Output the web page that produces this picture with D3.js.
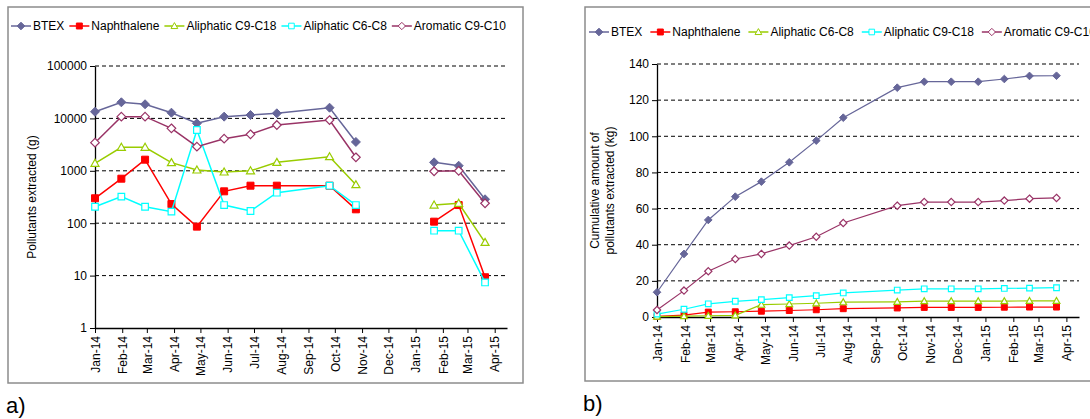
<!DOCTYPE html>
<html>
<head>
<meta charset="utf-8">
<script src="https://cdn.jsdelivr.net/npm/d3@7"></script>
<style>
  body {margin: 0; background: #fff;}
  svg {display: block; font-family: "Liberation Sans", Arial, sans-serif;}
</style>
</head>
<body>
<script>
// sampling dates (shared by both panels)
const dates = ['2014-01-01', '2014-01-31', '2014-02-27', '2014-03-29', '2014-04-27', '2014-05-28',
  '2014-06-27', '2014-07-27', '2014-09-25', '2014-10-25', '2014-11-24', '2014-12-24',
  '2015-01-22', '2015-02-19', '2015-03-21']

// a) monthly extracted (g) - null = no measurement
const btexA = [13400, 20300, 18600, 12850, 8060, 10800, 11600, 12500, 16000, 3550, null, null, 1450, 1250, 286]
const naphA = [299, 707, 1630, 232, 86, 406, 520, 520, 520, 184, null, null, 107, 222, 9.3]
const aliC9A = [1390, 2810, 2810, 1430, 1035, 948, 1000, 1450, 1860, 543, null, null, 222, 240, 43]
const aliC6A = [206, 321, 206, 166, 6010, 222, 171, 382, 520, 222, null, null, 72, 72, 7.4]
const aroA = [3440, 10800, 10800, 6470, 2885, 4100, 4970, 7480, 9310, 1810, null, null, 980, 1000, 240]

// b) cumulative (kg)
const btexB = [13.7, 34.9, 53.7, 66.6, 74.9, 85.6, 97.6, 110.3, 126.9, 130.2, 130.2, 130.2, 131.7, 133.4, 133.5]
const naphB = [0.3, 1.0, 2.7, 2.9, 3.2, 3.6, 4.0, 4.6, 5.0, 5.3, 5.3, 5.3, 5.4, 5.5, 5.5]
const aliC6B = [0.2, 0.5, 0.7, 0.9, 6.8, 7.2, 7.6, 8.2, 8.4, 8.8, 8.8, 8.8, 8.8, 8.9, 8.9]
const aliC9B = [1.6, 4.3, 7.3, 8.7, 9.6, 10.7, 11.8, 13.3, 14.9, 15.6, 15.6, 15.6, 15.8, 16.0, 16.2]
const aroB = [3.9, 14.6, 25.3, 32.1, 34.9, 39.5, 44.4, 52.0, 61.6, 63.6, 63.6, 63.6, 64.4, 65.5, 65.9]

const logTicks = [1, 10, 100, 1000, 10000, 100000]
const linTicks = [0, 20, 40, 60, 80, 100, 120, 140]

const parse = d3.timeParse('%Y-%m-%d')
const xDates = dates.map(parse)

const svg = d3.select('body').append('svg').attr('width', 1090).attr('height', 419)

// marker shapes
function marker(type, r) {
  if (type === 'diamond') return `M0,${-r}L${r},0L0,${r}L${-r},0Z`
  if (type === 'square') return `M${-r},${-r}H${r}V${r}H${-r}Z`
  return `M0,${-r}L${r},${r * 0.75}L${-r},${r * 0.75}Z`
}

const sty = {
  btex: {color: '#666699', type: 'diamond', r: 4.5, fill: true},
  naph: {color: '#ff0000', type: 'square', r: 3.5, fill: true},
  green: {color: '#99cc00', type: 'tri', r: 4, fill: false},
  cyan: {color: '#00ffff', type: 'square', r: 3.3, fill: false},
  aro: {color: '#993366', type: 'diamond', r: 4.3, fill: false}
}

function panel(cfg) {
  const g = svg.append('g')
  // frame
  g.append('rect').attr('x', cfg.box[0]).attr('y', cfg.box[1])
    .attr('width', cfg.box[2]).attr('height', cfg.box[3])
    .attr('fill', 'none').attr('stroke', '#8c8c8c').attr('stroke-width', 1.5)

  const x = d3.scaleTime().domain([parse('2014-01-01'), parse('2015-04-15')]).range(cfg.xr)
  const y = cfg.y

  // grid
  g.append('g').selectAll('line').data(cfg.ticks.slice(1)).join('line')
    .attr('x1', cfg.xr[0]).attr('x2', cfg.xr[1])
    .attr('y1', d => y(d)).attr('y2', d => y(d))
    .attr('stroke', '#000').attr('stroke-width', 1).attr('stroke-dasharray', '4,3')

  const ya = g.append('g').attr('transform', `translate(${cfg.xr[0]},0)`)
    .call(d3.axisLeft(y).tickValues(cfg.ticks).tickFormat(d3.format('d')).tickSize(5).tickSizeOuter(0))
  ya.selectAll('text').attr('font-size', 12).attr('fill', '#000').attr('x', -8)
  ya.select('.domain').attr('stroke-width', 1.3)

  const xa = g.append('g').attr('transform', `translate(0,${y.range()[0]})`)
    .call(d3.axisBottom(x).ticks(d3.timeMonth.every(1)).tickFormat(d3.timeFormat('%b-%y')).tickSize(5).tickSizeOuter(0))
  xa.selectAll('text').attr('font-size', 12).attr('fill', '#000')
    .attr('transform', 'rotate(-90)').attr('text-anchor', 'end')
    .attr('x', -8).attr('y', 0).attr('dy', '0.35em')
  xa.select('.domain').attr('stroke-width', 1.3)

  // series
  cfg.series.forEach(s => {
    const st = sty[s.style]
    const pts = xDates.map((d, i) => ({d, v: s.values[i]}))
    const line = d3.line().defined(p => p.v != null).x(p => x(p.d)).y(p => y(p.v))
    g.append('path').attr('d', line(pts)).attr('fill', 'none')
      .attr('stroke', st.color).attr('stroke-width', cfg.lw)
    g.append('g').selectAll('path').data(pts.filter(p => p.v != null)).join('path')
      .attr('transform', p => `translate(${x(p.d)},${y(p.v)})`)
      .attr('d', marker(st.type, st.r * cfg.ms))
      .attr('fill', st.fill ? st.color : '#fff')
      .attr('stroke', st.color).attr('stroke-width', st.fill ? 1 : 1.2)
  })

  // legend
  let lx = cfg.legend[0]
  const ly = cfg.legend[1]
  cfg.series.forEach(s => {
    const st = sty[s.style]
    g.append('line').attr('x1', lx).attr('x2', lx + 20).attr('y1', ly).attr('y2', ly)
      .attr('stroke', st.color).attr('stroke-width', 1.5)
    g.append('path').attr('transform', `translate(${lx + 10},${ly})`)
      .attr('d', marker(st.type, st.r * 0.85))
      .attr('fill', st.fill ? st.color : '#fff').attr('stroke', st.color).attr('stroke-width', 1)
    const t = g.append('text').attr('x', lx + 22).attr('y', ly).attr('dy', '0.35em')
      .attr('font-size', 12).text(s.name)
    lx += 22 + t.node().getComputedTextLength() + cfg.legendGap
  })

  // y title
  const my = (y.range()[0] + y.range()[1]) / 2
  cfg.ytitle.forEach((tx, i) => {
    g.append('text').attr('transform', `translate(${cfg.ytx + i * 15},${my}) rotate(-90)`)
      .attr('text-anchor', 'middle').attr('dy', '0.35em').attr('font-size', 12).text(tx)
  })

  svg.append('text').attr('x', cfg.tag[0]).attr('y', cfg.tag[1])
    .attr('font-size', 22).text(cfg.tagText)
}

panel({
  box: [8, 7, 515, 376],
  xr: [95, 507],
  y: d3.scaleLog().domain([1, 100000]).range([328, 66]),
  ticks: logTicks,
  lw: 1.5,
  ms: 1,
  legend: [11, 26],
  legendGap: 5,
  ytitle: ['Pollutants extracted (g)'],
  ytx: 32,
  tag: [6, 413], tagText: 'a)',
  series: [
    {name: 'BTEX', style: 'btex', values: btexA},
    {name: 'Naphthalene', style: 'naph', values: naphA},
    {name: 'Aliphatic C9-C18', style: 'green', values: aliC9A},
    {name: 'Aliphatic C6-C8', style: 'cyan', values: aliC6A},
    {name: 'Aromatic C9-C10', style: 'aro', values: aroA}
  ]
})

panel({
  box: [585, 7, 520, 374],
  xr: [657, 1079],
  y: d3.scaleLinear().domain([0, 140]).range([317, 64]),
  ticks: linTicks,
  lw: 1.2,
  ms: 0.85,
  legend: [589, 32],
  legendGap: 8,
  ytitle: ['Cumulative amount of', 'pollutants extracted (kg)'],
  ytx: 595,
  tag: [583, 411], tagText: 'b)',
  series: [
    {name: 'BTEX', style: 'btex', values: btexB},
    {name: 'Naphthalene', style: 'naph', values: naphB},
    {name: 'Aliphatic C6-C8', style: 'green', values: aliC6B},
    {name: 'Aliphatic C9-C18', style: 'cyan', values: aliC9B},
    {name: 'Aromatic C9-C10', style: 'aro', values: aroB}
  ]
})
</script>
</body>
</html>
